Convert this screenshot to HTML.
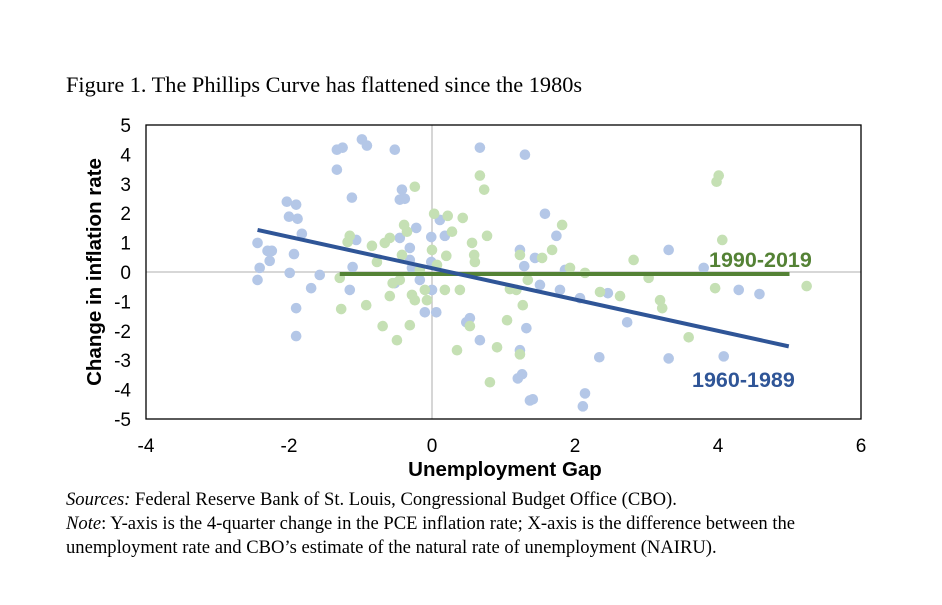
<!DOCTYPE html>
<html><head><meta charset="utf-8"><style>
body{margin:0;background:#fff;width:942px;height:605px;overflow:hidden;position:relative;font-family:"Liberation Serif",serif}
.t{position:absolute;color:#000;white-space:nowrap}
</style></head><body>
<div class="t" style="left:66px;top:72px;font-size:22.3px">Figure 1. The Phillips Curve has flattened since the 1980s</div>
<svg id="c" width="942" height="605" style="position:absolute;left:0;top:0"></svg>
<div class="t" style="left:66px;top:488px;font-size:18.6px;line-height:24px"><i>Sources:</i> Federal Reserve Bank of St. Louis, Congressional Budget Office (CBO).<br><i>Note</i>: Y-axis is the 4-quarter change in the PCE inflation rate; X-axis is the difference between the<br>unemployment rate and CBO’s estimate of the natural rate of unemployment (NAIRU).</div>
<script>
const xTicks=[-4,-2,0,2,4,6];
const yTicks=[5,4,3,2,1,0,-1,-2,-3,-4,-5];
const blueX=[-2.44,-2.41,-2.44,-2.30,-2.27,-2.24,-2.03,-2.00,-1.90,-1.88,-1.93,-1.99,-1.90,-1.90,-1.82,-1.69,-1.57,-1.33,-1.33,-1.25,-1.12,-0.98,-0.91,-1.11,-1.15,-1.06,-0.52,-0.52,-0.45,-0.42,-0.38,-0.31,-0.22,-0.45,-0.28,-0.31,-0.17,-0.01,-0.01,0.11,0.18,0.00,0.06,-0.10,0.67,1.30,1.58,1.74,1.23,1.44,1.29,0.53,0.48,0.67,1.32,1.23,1.20,1.26,1.37,1.41,2.11,2.14,2.34,2.46,2.73,3.31,3.31,3.80,4.08,4.29,4.58,2.07,1.51,1.86,1.79];
const blueY=[0.99,0.14,-0.27,0.72,0.38,0.72,2.39,1.88,2.29,1.81,0.61,-0.03,-1.23,-2.18,1.30,-0.55,-0.10,3.48,4.16,4.23,2.53,4.51,4.30,0.17,-0.61,1.09,4.16,-0.38,2.46,2.80,2.49,0.82,1.50,1.16,0.14,0.41,-0.27,0.34,1.19,1.77,1.23,-0.61,-1.37,-1.37,4.23,3.99,1.98,1.23,0.75,0.48,0.20,-1.57,-1.71,-2.32,-1.91,-2.66,-3.62,-3.48,-4.37,-4.33,-4.57,-4.13,-2.90,-0.72,-1.71,0.75,-2.94,0.14,-2.87,-0.61,-0.75,-0.89,-0.44,0.07,-0.61];
const greenX=[-0.24,-0.39,-0.59,-0.66,-0.84,-0.77,-0.42,-0.35,-1.15,-1.18,-1.29,-1.27,-0.69,-0.55,-0.92,-0.49,-0.07,0.03,0.22,0.28,0.43,0.20,0.59,0.56,0.67,0.73,0.77,1.23,1.27,1.34,1.68,1.82,1.54,0.53,0.35,0.91,0.81,1.05,1.09,1.18,1.23,1.93,2.14,2.35,2.63,2.82,3.03,3.19,3.22,3.59,3.98,4.01,3.96,4.06,5.24,0.18,0.39,0.60,0.00,0.07,-0.17,-0.10,-0.28,-0.45,-0.59,-0.31,-0.24];
const greenY=[2.90,1.60,1.16,0.99,0.89,0.34,0.58,1.37,1.23,1.02,-0.20,-1.26,-1.84,-0.38,-1.13,-2.32,-0.96,1.98,1.91,1.37,1.84,0.55,0.58,0.99,3.28,2.80,1.23,0.58,-1.13,-0.27,0.75,1.60,0.48,-1.84,-2.66,-2.56,-3.75,-1.64,-0.58,-0.61,-2.80,0.14,-0.03,-0.68,-0.82,0.41,-0.20,-0.96,-1.23,-2.22,3.07,3.28,-0.55,1.09,-0.48,-0.61,-0.61,0.34,0.75,0.24,0.07,-0.61,-0.78,-0.27,-0.82,-1.81,-0.96];
const blueFitX=[-2.44,4.99];
const blueFitY=[1.43,-2.53];
const greenFitX=[-1.29,5.0];
const greenFitY=[-0.07,-0.07];
const X0=146,X1=861,Y0=125,Y1=419;
const sx=v=>X0+(v+4)/10*(X1-X0);
const sy=v=>Y0+(5-v)/10*(Y1-Y0);
const svg=document.getElementById('c');
const NS='http://www.w3.org/2000/svg';
function mk(t,a){const e=document.createElementNS(NS,t);for(const k in a)e.setAttribute(k,a[k]);svg.appendChild(e);return e;}
let e;
e=mk('line',{x1:sx(0),x2:sx(0),y1:Y0,y2:Y1,stroke:'#bfbfbf','stroke-width':1.3});


e=mk('line',{x1:X0,x2:X1,y1:sy(0),y2:sy(0),stroke:'#bfbfbf','stroke-width':1.3});


e=mk('rect',{x:X0,y:Y0,width:X1-X0,height:Y1-Y0,fill:'none',stroke:'#000','stroke-width':1.3});


xTicks.forEach(v=>{const t=mk('text',{x:sx(v),y:452,'text-anchor':'middle','font-family':'Liberation Sans, sans-serif','font-size':19});t.textContent=v;

});
yTicks.forEach(v=>{const t=mk('text',{x:131,y:sy(v)+7,'text-anchor':'end','font-family':'Liberation Sans, sans-serif','font-size':19});t.textContent=v;

});
blueX.forEach((v,i)=>{const c=mk('circle',{cx:sx(v),cy:sy(blueY[i]),r:5.3,fill:'#b4c7e7'});

});
greenX.forEach((v,i)=>{const c=mk('circle',{cx:sx(v),cy:sy(greenY[i]),r:5.3,fill:'#c5e0b4'});

});
e=mk('line',{x1:sx(greenFitX[0]),y1:sy(greenFitY[0]),x2:sx(greenFitX[1]),y2:sy(greenFitY[1]),stroke:'#548235','stroke-width':4});


e=mk('line',{x1:sx(blueFitX[0]),y1:sy(blueFitY[0]),x2:sx(blueFitX[1]),y2:sy(blueFitY[1]),stroke:'#2f5597','stroke-width':4});


e=mk('text',{x:709,y:267,fill:'#548235','font-family':'Liberation Sans, sans-serif','font-size':21.5,'font-weight':'bold'});e.textContent='1990-2019';


e=mk('text',{x:692,y:387,fill:'#2f5597','font-family':'Liberation Sans, sans-serif','font-size':21.5,'font-weight':'bold'});e.textContent='1960-1989';


e=mk('text',{x:505,y:476,'text-anchor':'middle','font-family':'Liberation Sans, sans-serif','font-size':20.5,'font-weight':'bold'});e.textContent='Unemployment Gap';


e=mk('text',{x:0,y:0,'text-anchor':'middle','font-family':'Liberation Sans, sans-serif','font-size':20.5,'font-weight':'bold',transform:'translate(101,272) rotate(-90)'});e.textContent='Change in inflation rate';


</script>
</body></html>
